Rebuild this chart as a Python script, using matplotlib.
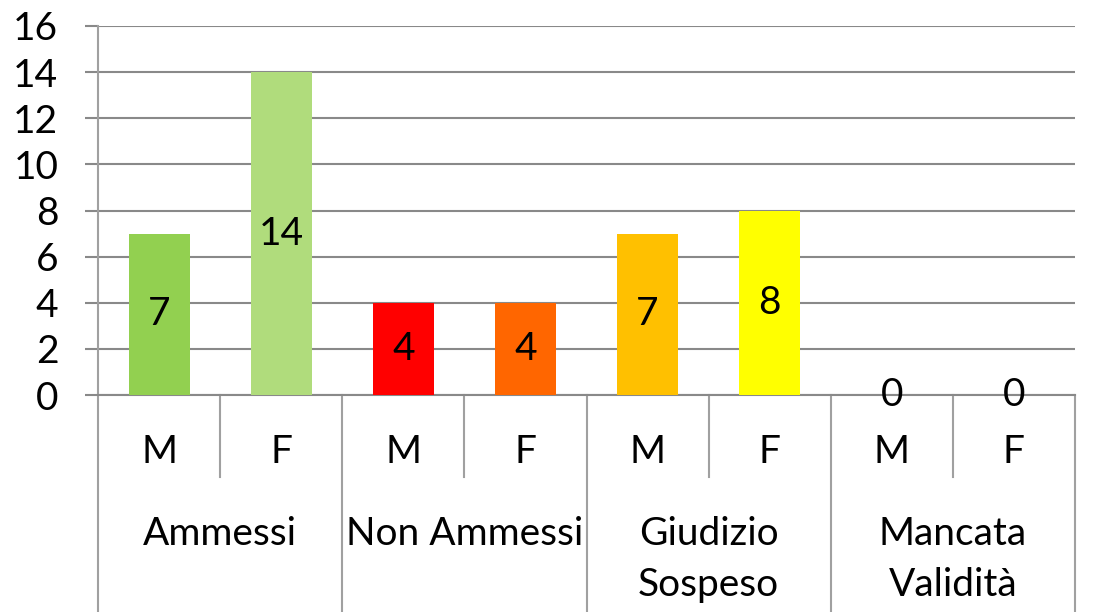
import matplotlib.pyplot as plt

plt.rcParams['font.family'] = ['Lato', 'DejaVu Sans']

groups = ['Ammessi', 'Non Ammessi', 'Giudizio\nSospeso', 'Mancata\nValidità']
sexes = ['M', 'F', 'M', 'F', 'M', 'F', 'M', 'F']
values = [7, 14, 4, 4, 7, 8, 0, 0]
colors = ['#92D050', '#B0DC7C', '#FF0000', '#FF6600', '#FFC000', '#FFFF00', '#4F81BD', '#C0504D']

grid_c = '#898989'
sep_c = '#A0A0A0'
fs = 28

fig = plt.figure(figsize=(10.96, 6.12), dpi=100)
ax = fig.add_axes([98 / 1096, 217 / 612, 977 / 1096, 369 / 612])

x = list(range(len(values)))
ax.bar(x, values, width=0.5, color=colors, zorder=3)
for xi, v in zip(x, values):
    ax.text(xi, v / 2, str(v), ha='center', va='center', fontsize=fs, zorder=4)

ax.set_xlim(-0.5, len(values) - 0.5)
ax.set_ylim(0, 16)
ax.set_yticks(range(0, 17, 2))
ax.yaxis.grid(True, color=grid_c, linewidth=1.5, zorder=0)
ax.tick_params(axis='y', labelsize=fs, length=9.5, width=1.5, color=grid_c, pad=19)
ax.set_xticks([])

for s in ['top', 'right', 'left']:
    ax.spines[s].set_visible(False)
ax.spines['bottom'].set_color(grid_c)
ax.spines['bottom'].set_linewidth(1.5)

tr = ax.get_xaxis_transform()
# M / F row
for i, s in enumerate(sexes):
    ax.text(i, -0.155, s, transform=tr, ha='center', va='center', fontsize=fs)
for b in [0.5, 2.5, 4.5, 6.5]:
    ax.plot([b, b], [0, -0.222], transform=tr, color=sep_c, linewidth=1.5, clip_on=False)

# group row
for k, b in enumerate([-0.5, 1.5, 3.5, 5.5, 7.5]):
    top = 1 if k == 0 else 0
    ax.plot([b, b], [top, -0.585], transform=tr, color=sep_c, linewidth=1.5, clip_on=False)
for j, g in enumerate(groups):
    ax.text(2 * j + 0.5, -0.328, g, transform=tr, ha='center', va='top', fontsize=fs,
            linespacing=1.53)

fig.savefig('out.png', dpi=100)
